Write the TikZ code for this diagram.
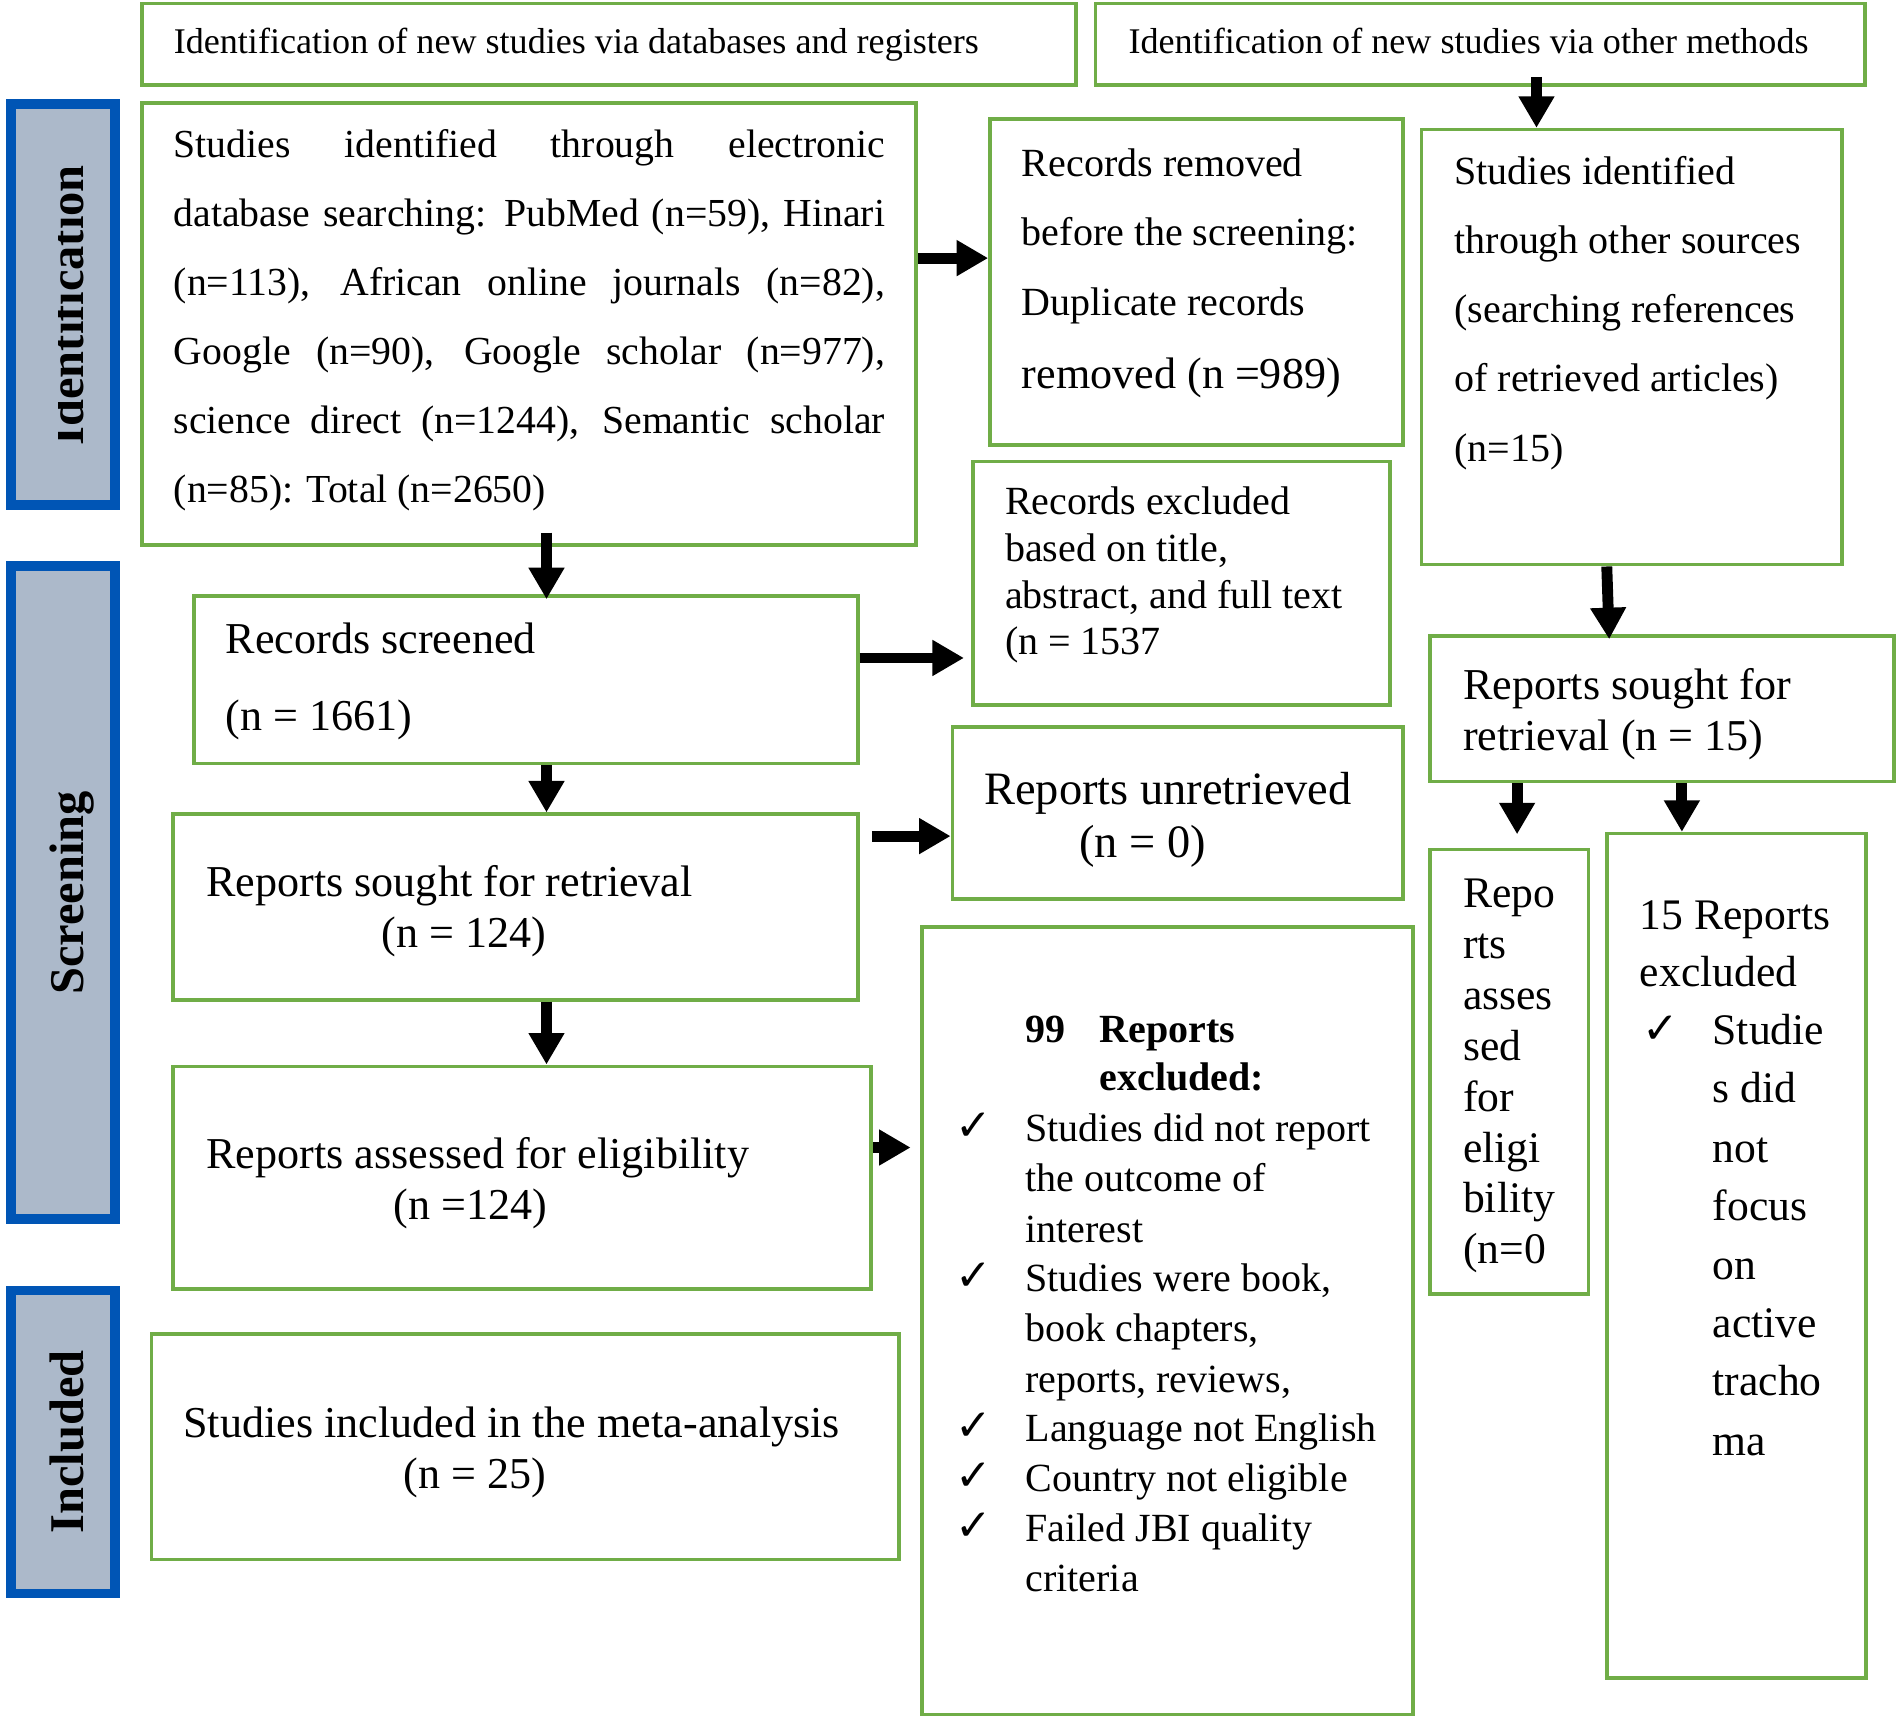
\documentclass[tikz,border=0pt]{standalone}
\usepackage{fontspec}
\setmainfont{Liberation Serif}
\newfontfamily\chkfont{DejaVu Sans}
\usetikzlibrary{arrows.meta,fit}
\definecolor{gboxc}{RGB}{112,173,71}
\definecolor{bluec}{RGB}{0,85,181}
\definecolor{grayc}{RGB}{172,185,202}
\newcommand{\fs}[1]{\fontsize{#1}{#1}\selectfont}
\newcommand{\ck}{{\chkfont\fontsize{18pt}{18pt}\selectfont ✓}}
\begin{document}
\begin{tikzpicture}[x=0.5pt,y=-0.5pt,
  gbox/.style={draw=gboxc, line width=1.5pt, inner sep=0pt},
  lbox/.style={draw=bluec, fill=grayc, line width=4pt, inner sep=0pt},
  arr/.style={line width=4.5pt, -{Triangle[width=14pt,length=13pt]}},
  tl/.style={anchor=base west, inner sep=0pt},
  tc/.style={anchor=base, inner sep=0pt},
  lab/.style={anchor=base, rotate=90, inner sep=0pt, font=\bfseries\fs{20pt}}]
\useasboundingbox (0,0) rectangle (1568,1417);
\fill[white] (0,0) rectangle (1568,1417);

% side labels
\node[lbox, fit={(9,86) (95,417)}] (L1) {};
\node[lbox, fit={(9,467) (95,1006)}] (L2) {};
\node[lbox, fit={(9,1065) (95,1315)}] (L3) {};
\begin{scope}
\clip (48.5,86) rectangle (95,417);
\node[lab] (L1t) at (69,252) {Identification};
\end{scope}
\node[lab] (L2t) at (69,737) {Screening};
\node[lab] (L3t) at (69,1190) {Included};

% headers
\node[gbox, fit={(117,3) (888,70)}] (h1) {};
\node[tl, font=\fs{14.9pt}] (h1t) at (143,44) {Identification of new studies via databases and registers};
\node[gbox, fit={(904,3) (1539,70)}] (h2) {};
\node[tl, font=\fs{14.9pt}] (h2t) at (931,44) {Identification of new studies via other methods};

% main box
\node[gbox, fit={(117,85) (756,450)}] (main) {};
\begin{scope}[every node/.style={tl, font=\fs{16.4pt}}]
\node (m1) at (143,130) {\makebox[293.5pt][s]{Studies identified through electronic}};
\node (m2) at (143,187) {\makebox[293.5pt][s]{database searching: PubMed (n=59), Hinari}};
\node (m3) at (143,244) {\makebox[293.5pt][s]{(n=113), African online journals (n=82),}};
\node (m4) at (143,301) {\makebox[293.5pt][s]{Google (n=90), Google scholar (n=977),}};
\node (m5) at (143,358) {\makebox[293.5pt][s]{science direct (n=1244), Semantic scholar}};
\node (m6) at (143,415) {(n=85): Total (n=2650)};
\end{scope}

% records removed
\node[gbox, fit={(817,98) (1158,367)}] (rem) {};
\begin{scope}[every node/.style={tl, font=\fs{16.5pt}}]
\node (r1) at (843,146) {Records removed};
\node (r2) at (843,203) {before the screening:};
\node (r3) at (843,260) {Duplicate records};
\node[font=\fs{18.2pt}] (r4) at (843,321) {removed (n =989)};
\end{scope}

% other sources
\node[gbox, fit={(1173,107) (1520,466)}] (oth) {};
\begin{scope}[every node/.style={tl, font=\fs{16.5pt}}]
\node (o1) at (1200,152) {Studies identified};
\node (o2) at (1200,209) {through other sources};
\node (o3) at (1200,266) {(searching references};
\node (o4) at (1200,323) {of retrieved articles)};
\node (o5) at (1200,381) {(n=15)};
\end{scope}

% records excluded
\node[gbox, fit={(803,381) (1147,582)}] (excl) {};
\begin{scope}[every node/.style={tl, font=\fs{16.5pt}}]
\node (e1) at (829,425) {Records excluded};
\node (e2) at (829,463) {based on title,};
\node (e3) at (829,502) {abstract, and full text};
\node (e4) at (829,540) {(n = 1537};
\end{scope}

% records screened
\node[gbox, fit={(160,492) (708,630)}] (scr) {};
\node[tl, font=\fs{18.2pt}] (s1) at (186,539) {Records screened};
\node[tl, font=\fs{18.2pt}] (s2) at (186,603) {(n = 1661)};

% reports sought (15)
\node[gbox, fit={(1180,525) (1563,645)}] (s15) {};
\node[tl, font=\fs{18.2pt}] (q1) at (1207,577) {Reports sought for};
\node[tl, font=\fs{18.2pt}] (q2) at (1207,619) {retrieval (n = 15)};

% reports sought (124)
\node[gbox, fit={(143,672) (708,825)}] (sought) {};
\node[tl, font=\fs{18.2pt}] (p1) at (170,740) {Reports sought for retrieval};
\node[tc, font=\fs{18.2pt}] (p2) at (383,782) {(n = 124)};

% unretrieved
\node[gbox, fit={(786,600) (1158,742)}] (unret) {};
\node[tl, font=\fs{19.15pt}] (u1) at (812,664) {Reports unretrieved};
\node[tc, font=\fs{19.15pt}] (u2) at (943,708) {(n = 0)};

% narrow box
\node[gbox, fit={(1180,701) (1311,1068)}] (nar) {};
\foreach \yy/\tt [count=\i] in {749/Repo, 791/rts, 833/asses, 875/sed, 917/for, 959/eligi, 1001/bility, 1043/(n=0}
  \node[tl, font=\fs{18pt}] (n\i) at (1207,\yy) {\tt};

% 15 excluded
\node[gbox, fit={(1326,688) (1540,1385)}] (ex15) {};
\node[tl, font=\fs{18pt}] (f1) at (1353,767) {15 Reports};
\node[tl, font=\fs{18pt}] (f2) at (1353,814) {excluded};
\node[tl] (fc) at (1355,861) {\ck};
\foreach \yy/\tt [count=\i] in {862/Studie, 910/s did, 959/not, 1007/focus, 1056/on, 1104/active, 1152/tracho, 1201/ma}
  \node[tl, font=\fs{18pt}] (g\i) at (1413,\yy) {\tt};

% assessed
\node[gbox, fit={(143,880) (719,1064)}] (ass) {};
\node[tl, font=\fs{18.2pt}] (a1) at (170,964) {Reports assessed for eligibility};
\node[tc, font=\fs{18.2pt}] (a2) at (388,1006) {(n =124)};

% 99 excluded
\node[gbox, fit={(761,765) (1166,1415)}] (ex99) {};
\node[tl, font=\bfseries\fs{16.5pt}] (x0a) at (846,860) {99};
\node[tl, font=\bfseries\fs{16.5pt}] (x0b) at (907,860) {Reports};
\node[tl, font=\bfseries\fs{16.5pt}] (x0c) at (907,900) {excluded:};
\foreach \yy/\tt [count=\i] in {942/{Studies did not report}, 983/{the outcome of}, 1025/{interest}, 1066/{Studies were book,}, 1107/{book chapters,}, 1149/{reports, reviews,}, 1190/{Language not English}, 1231/{Country not eligible}, 1272/{Failed JBI quality}, 1313/{criteria}}
  \node[tl, font=\fs{16.5pt}] (x\i) at (846,\yy) {\tt};
\foreach \yy [count=\i] in {941, 1065, 1189, 1230, 1271}
  \node[tl] (xc\i) at (788,\yy) {\ck};

% included
\node[gbox, fit={(125,1101) (742,1287)}] (inc) {};
\node[tl, font=\fs{18.2pt}] (i1) at (151,1186) {Studies included in the meta-analysis};
\node[tc, font=\fs{18.2pt}] (i2) at (392,1228) {(n = 25)};

% connector coordinates
\coordinate (axm) at (451,0);
\coordinate (ax2) at (1268,0);
\coordinate (ax3) at (1326,0);
\coordinate (ax4) at (1328,0);
\coordinate (ax5) at (1252,0);
\coordinate (ax6) at (1388,0);
\coordinate (ay1) at (0,213);
\coordinate (ay2) at (0,543);
\coordinate (ay3) at (0,690);
\coordinate (ay4) at (0,947);

% arrows
\draw[arr] ([yshift=6pt]main.south -| axm) -- ([yshift=-2pt]scr.north -| axm);
\draw[arr] (scr.south -| axm) -- (sought.north -| axm);
\draw[arr] (sought.south -| axm) -- (ass.north -| axm);
\draw[arr] (main.east |- ay1) -- (rem.west |- ay1);
\draw[arr] (scr.east |- ay2) -- ([xshift=-3pt]excl.west |- ay2);
\draw[arr] ([xshift=5pt]sought.east |- ay3) -- (unret.west |- ay3);
\draw[arr] (ass.east |- ay4) -- ([xshift=-4pt]ex99.west |- ay4);
\draw[arr] ([yshift=4pt]h2.south -| ax2) -- (oth.north -| ax2);
\draw[arr] (oth.south -| ax3) -- ([yshift=-2pt]s15.north -| ax4);
\draw[arr] (s15.south -| ax5) -- ([yshift=5.5pt]nar.north -| ax5);
\draw[arr] (s15.south -| ax6) -- (ex15.north -| ax6);
\end{tikzpicture}
\end{document}
